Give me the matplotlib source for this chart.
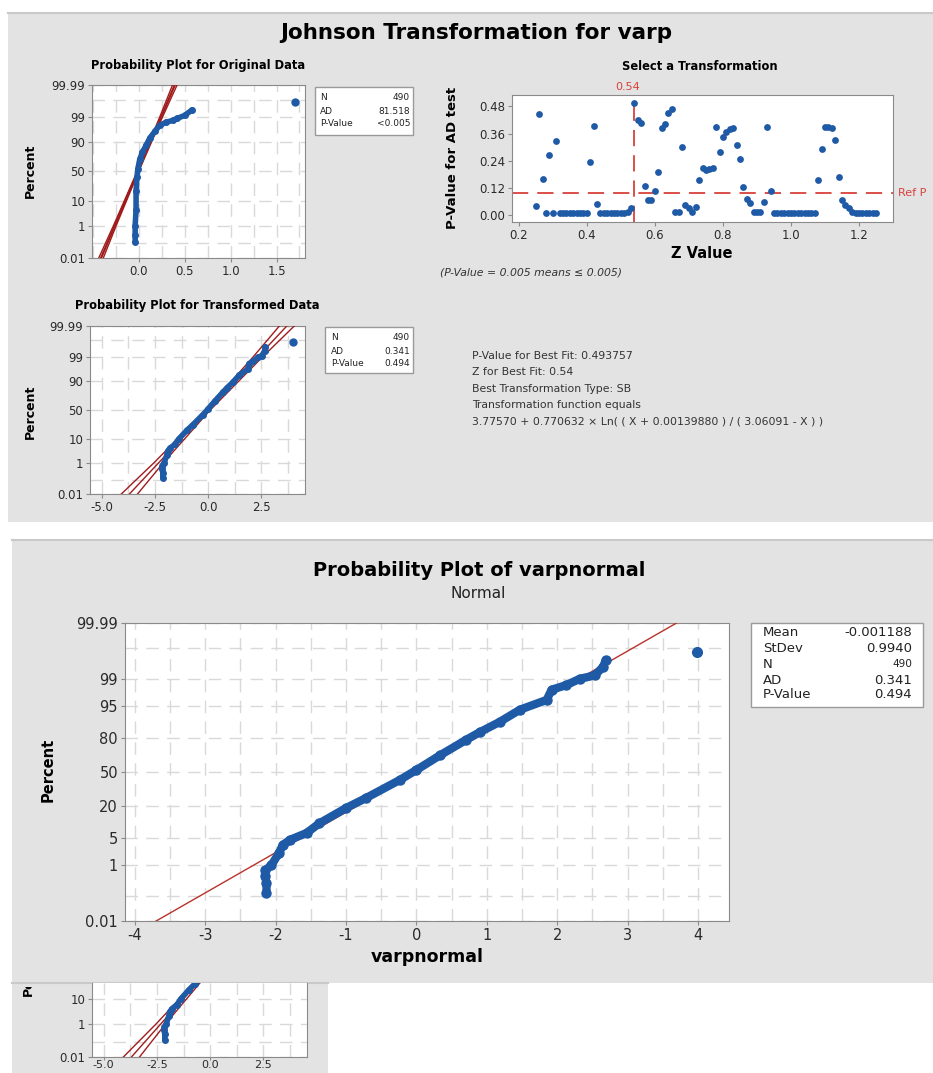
import matplotlib
matplotlib.use('Agg')
import matplotlib.pyplot as plt
from matplotlib.patches import Rectangle
from matplotlib.ticker import FixedLocator
import numpy as np
from statistics import NormalDist

plt.rcParams['font.family'] = ['DejaVu Sans']

# ---- data ----
# original data (varp), probability plot points
orig_x = [-0.04, -0.04, -0.04, -0.03, -0.03, -0.02, -0.01, 0.01, 0.04, 0.08, 0.12, 0.18, 0.23, 0.30, 0.37, 0.42, 0.50, 0.58]
orig_pct = [0.12, 0.3, 1.0, 5, 20, 40, 55, 70, 80, 87, 92.5, 96, 97.7, 98.3, 98.6, 98.9, 99.2, 99.6]
orig_out_x = [1.70]
orig_out_pct = [99.86]
orig_mean, orig_sd = -0.01, 0.108
orig_stats = [('N', '490'), ('AD', '81.518'), ('P-Value', '<0.005')]

# transformed data (varpnormal)
tr_x = [-2.13, -2.13, -2.15, -2.15, -2.06, -1.95, -1.90, -1.80, -1.56, -1.38, -1.0, -0.71, -0.24, 0.0,
        0.33, 0.71, 0.90, 1.18, 1.47, 1.85, 1.92, 2.13, 2.32, 2.53, 2.65, 2.69]
tr_pct = [0.13, 0.28, 0.47, 0.7, 1.0, 2.2, 3.4, 4.5, 6.4, 10, 18.4, 26, 42, 52,
          66, 79, 84, 89.4, 94, 96.4, 98, 98.5, 99, 99.2, 99.56, 99.74]
tr_out_x = [3.98]
tr_out_pct = [99.86]
tr_mean, tr_sd = -0.001188, 0.9940
tr_stats = [('N', '490'), ('AD', '0.341'), ('P-Value', '0.494')]
big_stats = [('Mean', '-0.001188'), ('StDev', '0.9940'), ('N', '490'), ('AD', '0.341'), ('P-Value', '0.494')]

# confidence band half widths along the fit line
ci_pct = [0.01, 1, 50, 99, 99.99]
orig_ci_half = [0.025, 0.015, 0.008, 0.015, 0.025]
tr_ci_half = [0.38, 0.22, 0.10, 0.22, 0.35]

# select a transformation: Z value vs AD p-value
z_vals = [0.25, 0.26, 0.27, 0.28, 0.29, 0.30, 0.31, 0.32, 0.33, 0.34, 0.35, 0.36, 0.37, 0.38, 0.39, 0.40,
          0.41, 0.42, 0.43, 0.44, 0.45, 0.46, 0.47, 0.48, 0.49, 0.50, 0.51, 0.52, 0.53, 0.54, 0.55, 0.56,
          0.57, 0.58, 0.59, 0.60, 0.61, 0.62, 0.63, 0.64, 0.65, 0.66, 0.67, 0.68, 0.69, 0.70, 0.71, 0.72,
          0.73, 0.74, 0.75, 0.76, 0.77, 0.78, 0.79, 0.80, 0.81, 0.82, 0.83, 0.84, 0.85, 0.86, 0.87, 0.88,
          0.89, 0.90, 0.91, 0.92, 0.93, 0.94, 0.95, 0.96, 0.97, 0.98, 0.99, 1.00, 1.01, 1.02, 1.03, 1.04,
          1.05, 1.06, 1.07, 1.08, 1.09, 1.10, 1.11, 1.12, 1.13, 1.14, 1.15, 1.16, 1.17, 1.18, 1.19, 1.20,
          1.21, 1.22, 1.23, 1.24, 1.25]
p_vals = [0.04, 0.445, 0.16, 0.01, 0.265, 0.01, 0.325, 0.01, 0.01, 0.01, 0.01, 0.01, 0.01, 0.01, 0.01, 0.01,
          0.235, 0.395, 0.05, 0.01, 0.01, 0.01, 0.01, 0.01, 0.01, 0.01, 0.01, 0.015, 0.03, 0.494, 0.42, 0.405,
          0.13, 0.066, 0.066, 0.105, 0.19, 0.385, 0.40, 0.45, 0.47, 0.015, 0.015, 0.30, 0.044, 0.03, 0.015, 0.037,
          0.157, 0.21, 0.20, 0.205, 0.21, 0.39, 0.28, 0.345, 0.367, 0.38, 0.385, 0.31, 0.25, 0.125, 0.073, 0.054,
          0.015, 0.015, 0.015, 0.059, 0.39, 0.105, 0.01, 0.01, 0.01, 0.01, 0.01, 0.01, 0.01, 0.01, 0.01, 0.01,
          0.01, 0.01, 0.01, 0.154, 0.29, 0.39, 0.39, 0.385, 0.333, 0.168, 0.069, 0.044, 0.03, 0.015, 0.01, 0.01,
          0.01, 0.01, 0.01, 0.01, 0.01]
best_z = 0.54
ref_p = 0.10

fit_lines = ['P-Value for Best Fit: 0.493757',
             'Z for Best Fit: 0.54',
             'Best Transformation Type: SB',
             'Transformation function equals',
             '3.77570 + 0.770632 \u00d7 Ln( ( X + 0.00139880 ) / ( 3.06091 - X ) )']

BLUE = '#1f5aa6'
DRED = '#a01c1c'
RED = '#d9403a'
GRID = '#d9d9d9'
SPINE = '#8a8a8a'
PANEL = '#e3e3e3'

W, H = 933, 1073
fig = plt.figure(figsize=(W / 100, H / 100), dpi=100)
fig.patch.set_facecolor('white')

def rect(x0, y0, x1, y1):
    return [x0 / W, 1 - y1 / H, (x1 - x0) / W, (y1 - y0) / H]

def ftext(x, y, s, **kw):
    return fig.text(x / W, 1 - y / H, s, **kw)

def panel(x0, y0, x1, y1):
    r = Rectangle((x0 / W, 1 - y1 / H), (x1 - x0) / W, (y1 - y0) / H, transform=fig.transFigure,
                  facecolor=PANEL, edgecolor='none', zorder=-5)
    fig.add_artist(r)
    fig.add_artist(plt.Line2D([x0 / W, x1 / W], [1 - y0 / H, 1 - y0 / H], transform=fig.transFigure,
                              color='#c9c9c9', lw=1.5, zorder=-4))
    return r

def box(x0, y0, x1, y1, rows, ys, lx, rx, fs, small=None):
    fig.add_artist(Rectangle((x0 / W, 1 - y1 / H), (x1 - x0) / W, (y1 - y0) / H, transform=fig.transFigure,
                             facecolor='white', edgecolor='#9a9a9a', lw=1, zorder=2))
    for (k, v), y in zip(rows, ys):
        ftext(lx, y, k, fontsize=fs, va='center', ha='left', color='#222222', zorder=3)
        vfs = fs * 0.8 if (small and k == small) else fs
        ftext(rx, y, v, fontsize=vfs, va='center', ha='right', color='#222222', zorder=3)

nd = NormalDist()

def pct_to_z(p):
    p = np.clip(np.asarray(p, dtype=float) / 100.0, 1e-9, 1 - 1e-9)
    return np.vectorize(nd.inv_cdf, otypes=[float])(p)

def z_to_pct(z):
    return np.vectorize(nd.cdf, otypes=[float])(np.asarray(z, dtype=float)) * 100

def prob_axes(ax, xlim, ylim, yticks, xticks, xlabels, xminor, yminor, fs):
    ax.set_yscale('function', functions=(pct_to_z, z_to_pct))
    ax.set_xlim(*xlim)
    ax.set_ylim(*ylim)
    ax.set_yticks(yticks, [('%g' % t) for t in yticks])
    ax.set_xticks(xticks, xlabels)
    ax.xaxis.set_minor_locator(FixedLocator(xminor))
    ax.yaxis.set_minor_locator(FixedLocator(yminor))
    ax.grid(True, which='both', color=GRID, lw=1, ls=(0, (9, 6)))
    ax.set_axisbelow(True)
    ax.tick_params(which='major', length=3, color=SPINE, labelsize=fs, pad=2, labelcolor='#2a2a2a')
    ax.tick_params(which='minor', length=0)
    for s in ax.spines.values():
        s.set_color(SPINE)
    ax.set_facecolor('white')

def draw_fit(ax, mean, sd, half, color, lw_fit, lw_ci):
    zc = pct_to_z(ci_pct)
    xc = mean + sd * zc
    ax.plot(xc, ci_pct, color=color, lw=lw_fit, zorder=3)
    ax.plot(xc - np.array(half), ci_pct, color=color, lw=lw_ci, zorder=3)
    ax.plot(xc + np.array(half), ci_pct, color=color, lw=lw_ci, zorder=3)

# ---- panels ----
panel(8, 13, 933, 522)
panel(12, 540, 933, 983)
panel(12, 983, 328, 1073)

# ---- top panel ----
ftext(476, 33, 'Johnson Transformation for varp', fontsize=15.5, fontweight='bold', ha='center', va='center')
ftext(198, 66, 'Probability Plot for Original Data', fontsize=8.3, fontweight='bold', ha='center', va='center')
ftext(700, 66, 'Select a Transformation', fontsize=8.3, fontweight='bold', ha='center', va='center')
ftext(197, 305, 'Probability Plot for Transformed Data', fontsize=8.3, fontweight='bold', ha='center', va='center')

small_yt = [0.01, 1, 10, 50, 90, 99, 99.99]

ax1 = fig.add_axes(rect(92, 85, 305, 258))
prob_axes(ax1, (-0.51, 1.81), (0.01, 99.99), small_yt, [0, 0.5, 1.0, 1.5], ['0.0', '0.5', '1.0', '1.5'],
          np.arange(-0.5, 1.8, 0.25), [0.1, 99.9], 8.5)
draw_fit(ax1, orig_mean, orig_sd, orig_ci_half, DRED, 1.6, 1.0)
ax1.plot(orig_x, orig_pct, color=BLUE, lw=4, marker='o', ms=4, zorder=4, solid_capstyle='round')
ax1.plot(orig_out_x, orig_out_pct, 'o', color=BLUE, ms=5, zorder=4)
ftext(30, 171, 'Percent', fontsize=9, fontweight='bold', rotation=90, ha='center', va='center')
box(315, 87, 413, 135, orig_stats, [97, 111, 124], 320, 410, 6.5)

ax2 = fig.add_axes(rect(512, 95, 893, 222))
ax2.scatter(z_vals, p_vals, s=24, color=BLUE, zorder=3, linewidths=0)
ax2.axhline(ref_p, color=RED, lw=1.3, dashes=(9, 5), zorder=2)
ax2.axvline(best_z, color=RED, lw=1.3, dashes=(9, 5), zorder=2)
ax2.set_xlim(0.18, 1.30)
ax2.set_ylim(-0.03, 0.53)
ax2.set_xticks([0.2, 0.4, 0.6, 0.8, 1.0, 1.2], ['0.2', '0.4', '0.6', '0.8', '1.0', '1.2'])
ax2.set_yticks([0, 0.12, 0.24, 0.36, 0.48], ['0.00', '0.12', '0.24', '0.36', '0.48'])
ax2.tick_params(length=3, color=SPINE, labelsize=8.5, pad=2, labelcolor='#2a2a2a')
for s in ax2.spines.values():
    s.set_color(SPINE)
ftext(628, 87, '%.2f' % best_z, fontsize=8, color=RED, ha='center', va='center')
ftext(898, 193, 'Ref P', fontsize=8, color=RED, ha='left', va='center')
ftext(452, 158, 'P-Value for AD test', fontsize=9.5, fontweight='bold', rotation=90, ha='center', va='center')
ftext(702, 253, 'Z Value', fontsize=10.5, fontweight='bold', ha='center', va='center')
ftext(440, 273, '(P-Value = 0.005 means \u2264 0.005)', fontsize=7.8, style='italic', ha='left', va='center',
      color='#333333')

ax3 = fig.add_axes(rect(90, 326, 305, 494))
prob_axes(ax3, (-5.55, 4.55), (0.01, 99.99), small_yt, [-5, -2.5, 0, 2.5], ['-5.0', '-2.5', '0.0', '2.5'],
          np.arange(-5.0, 4.6, 1.25), [0.1, 99.9], 8.5)
draw_fit(ax3, tr_mean, tr_sd, tr_ci_half, DRED, 1.0, 1.0)
ax3.plot(tr_x, tr_pct, color=BLUE, lw=4, marker='o', ms=4, zorder=4, solid_capstyle='round')
ax3.plot(tr_out_x, tr_out_pct, 'o', color=BLUE, ms=5, zorder=4)
ftext(30, 412, 'Percent', fontsize=9, fontweight='bold', rotation=90, ha='center', va='center')
box(325, 327, 413, 373, tr_stats, [337, 351, 363], 331, 410, 6.5)

for line, y in zip(fit_lines, [356, 372, 389, 405, 421]):
    ftext(472, y, line, fontsize=7.8, ha='left', va='center', color='#333333')

# ---- big probability plot ----
ftext(479, 570, 'Probability Plot of varpnormal', fontsize=14, fontweight='bold', ha='center', va='center')
ftext(478, 593, 'Normal', fontsize=11, ha='center', va='center', color='#222222')

big_yt = [0.01, 1, 5, 20, 50, 80, 95, 99, 99.99]
ax4 = fig.add_axes(rect(125, 623, 729, 921))
prob_axes(ax4, (-4.14, 4.44), (0.01, 99.99), big_yt, [-4, -3, -2, -1, 0, 1, 2, 3, 4],
          ['-4', '-3', '-2', '-1', '0', '1', '2', '3', '4'], np.arange(-4.0, 4.5, 0.5), [0.1, 99.9], 10.5)
fit_x = tr_mean + tr_sd * pct_to_z(ci_pct)
ax4.plot(fit_x, ci_pct, color='#b8332b', lw=1.0, zorder=3)
ax4.plot(tr_x, tr_pct, color=BLUE, lw=6, marker='o', ms=6.5, zorder=4, solid_capstyle='round')
ax4.plot(tr_out_x, tr_out_pct, 'o', color=BLUE, ms=7, zorder=4)
ftext(48, 770, 'Percent', fontsize=10.5, fontweight='bold', rotation=90, ha='center', va='center')
ftext(427, 957, 'varpnormal', fontsize=12.5, fontweight='bold', ha='center', va='center')
box(751, 623, 923, 707, big_stats, [632, 648, 664, 680, 695], 763, 912, 9.5, small='N')

# ---- bottom strip: cut-off copy of the transformed plot ----
ax5 = fig.add_axes(rect(92, 983, 307, 1057))
prob_axes(ax5, (-5.55, 4.55), (0.01, 27), [0.01, 1, 10], [-5, -2.5, 0, 2.5], ['-5.0', '-2.5', '0.0', '2.5'],
          np.arange(-5.0, 4.6, 1.25), [0.1], 8.5)
ax5.tick_params(axis='x', which='major', length=2, pad=0.5, labelsize=8)
ax5.spines['top'].set_visible(False)
draw_fit(ax5, tr_mean, tr_sd, tr_ci_half, DRED, 1.0, 1.0)
ax5.plot(tr_x, tr_pct, color=BLUE, lw=4, marker='o', ms=4, zorder=4, solid_capstyle='round')

# clipped y-label of the cut-off strip: only its lower end shows
clip_ax = fig.add_axes(rect(12, 987, 90, 1073))
clip_ax.set_axis_off()
lab = ftext(28, 969, 'Percent', fontsize=9, fontweight='bold', rotation=90, ha='center', va='center')
lab.set_clip_box(clip_ax.bbox)
lab.set_clip_path(None)
lab.set_clip_on(True)

fig.savefig('out.png', dpi=100)
